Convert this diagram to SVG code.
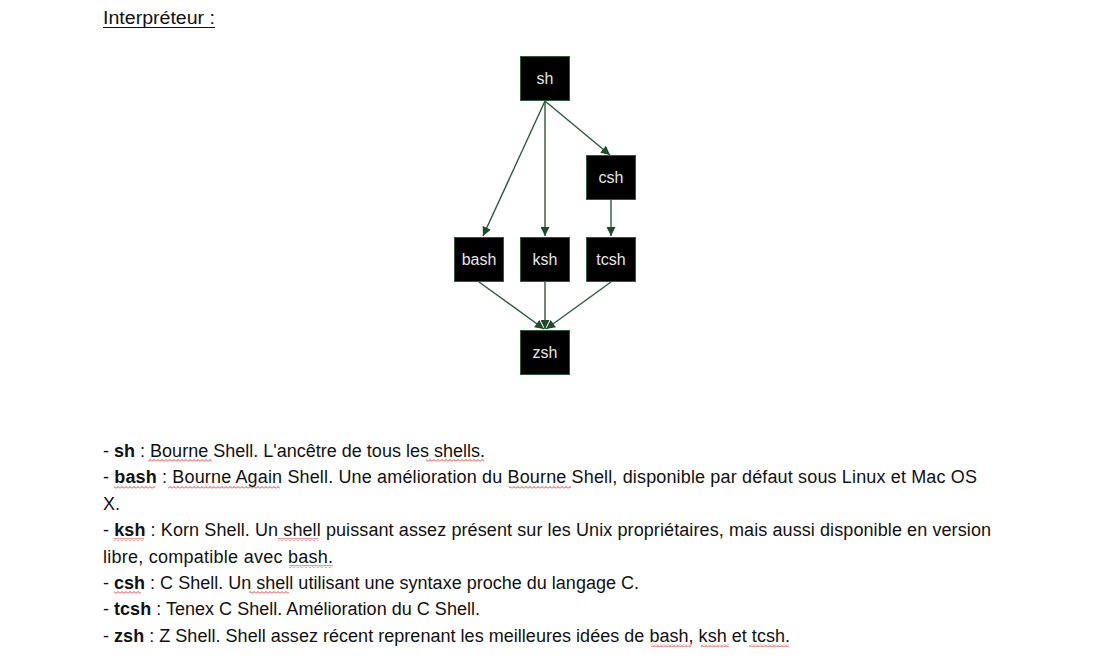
<svg xmlns="http://www.w3.org/2000/svg" width="1096" height="661" viewBox="0 0 1096 661">
<style>
.node rect{fill:#000;stroke:#2e5b3e;stroke-width:1}
.node text{font-family:"Liberation Sans",Arial,sans-serif;font-size:16px;fill:#e6e6e6;text-anchor:middle}
.edge{stroke:#2b5a3a;stroke-width:1.4;fill:none;marker-end:url(#arr)}
.t{font-family:"Liberation Sans",Arial,sans-serif;font-size:18px;fill:#111}
.b{font-weight:bold}
.sq{fill:url(#squig)}
</style>
<defs>
<marker id="arr" viewBox="0 0 10 10" refX="10" refY="5" markerWidth="10" markerHeight="9" markerUnits="userSpaceOnUse" orient="auto">
<path d="M0,0 L10,5 L0,10 z" fill="#1f4a2c"/>
</marker>
<pattern id="squig" width="4" height="3" patternUnits="userSpaceOnUse">
<path d="M0,2.5 L2,0.5 L4,2.5" stroke="#e02020" stroke-width="0.9" fill="none"/>
</pattern>
</defs>
<rect width="1096" height="661" fill="#fff"/>
<text class="t" x="103" y="24" textLength="112" lengthAdjust="spacingAndGlyphs">Interpréteur :</text>
<line x1="103" y1="27.5" x2="215" y2="27.5" stroke="#111" stroke-width="1"/>

<g id="connectors">
<line class="edge" x1="545" y1="101" x2="483" y2="236"/>
<line class="edge" x1="545" y1="101" x2="545" y2="236"/>
<line class="edge" x1="545" y1="101" x2="610" y2="155"/>
<line class="edge" x1="611" y1="199" x2="611" y2="236"/>
<line class="edge" x1="479" y1="282" x2="544" y2="329"/>
<line class="edge" x1="545" y1="282" x2="545" y2="329"/>
<line class="edge" x1="611" y1="282" x2="546" y2="329"/>
</g>

<g id="node-sh" class="node"><rect x="520.5" y="56.5" width="49" height="44"/><text x="545" y="84">sh</text></g>
<g id="node-csh" class="node"><rect x="586.5" y="155.5" width="49" height="44"/><text x="611" y="183">csh</text></g>
<g id="node-bash" class="node"><rect x="454.5" y="237.5" width="49" height="44"/><text x="479" y="265">bash</text></g>
<g id="node-ksh" class="node"><rect x="520.5" y="237.5" width="49" height="44"/><text x="545" y="265">ksh</text></g>
<g id="node-tcsh" class="node"><rect x="586.5" y="237.5" width="49" height="44"/><text x="611" y="265">tcsh</text></g>
<g id="node-zsh" class="node"><rect x="520.5" y="330.5" width="49" height="44"/><text x="545" y="358">zsh</text></g>

<g id="description">
<text class="t" x="103" y="457" textLength="382" lengthAdjust="spacing">- <tspan class="b">sh</tspan> : Bourne Shell. L'ancêtre de tous les shells.</text>
<text class="t" x="103" y="483.4" textLength="874" lengthAdjust="spacing">- <tspan class="b">bash</tspan> : Bourne Again Shell. Une amélioration du Bourne Shell, disponible par défaut sous Linux et Mac OS</text>
<text class="t" x="103" y="509.8">X.</text>
<text class="t" x="103" y="536.2" textLength="888" lengthAdjust="spacing">- <tspan class="b">ksh</tspan> : Korn Shell. Un shell puissant assez présent sur les Unix propriétaires, mais aussi disponible en version</text>
<text class="t" x="103" y="562.6" textLength="230" lengthAdjust="spacing">libre, compatible avec bash.</text>
<text class="t" x="103" y="589" textLength="536" lengthAdjust="spacing">- <tspan class="b">csh</tspan> : C Shell. Un shell utilisant une syntaxe proche du langage C.</text>
<text class="t" x="103" y="615.4" textLength="377" lengthAdjust="spacing">- <tspan class="b">tcsh</tspan> : Tenex C Shell. Amélioration du C Shell.</text>
<text class="t" x="103" y="641.8" textLength="687" lengthAdjust="spacing">- <tspan class="b">zsh</tspan> : Z Shell. Shell assez récent reprenant les meilleures idées de bash, ksh et tcsh.</text>
</g>

<g id="spelling-marks">
<rect class="sq" x="148" y="459" width="64" height="3"/>
<rect class="sq" x="426" y="459" width="58" height="3"/>
<rect class="sq" x="114" y="486" width="41" height="3"/>
<rect class="sq" x="168" y="486" width="112" height="3"/>
<rect class="sq" x="509" y="486" width="62" height="3"/>
<rect class="sq" x="114" y="538" width="30" height="3"/>
<rect class="sq" x="278" y="538" width="40" height="3"/>
<rect class="sq" x="289" y="565" width="44" height="3"/>
<rect class="sq" x="114" y="591" width="27" height="3"/>
<rect class="sq" x="249" y="591" width="40" height="3"/>
<rect class="sq" x="651" y="644" width="40" height="3"/>
<rect class="sq" x="701" y="644" width="28" height="3"/>
<rect class="sq" x="749" y="644" width="40" height="3"/>
</g>
</svg>
